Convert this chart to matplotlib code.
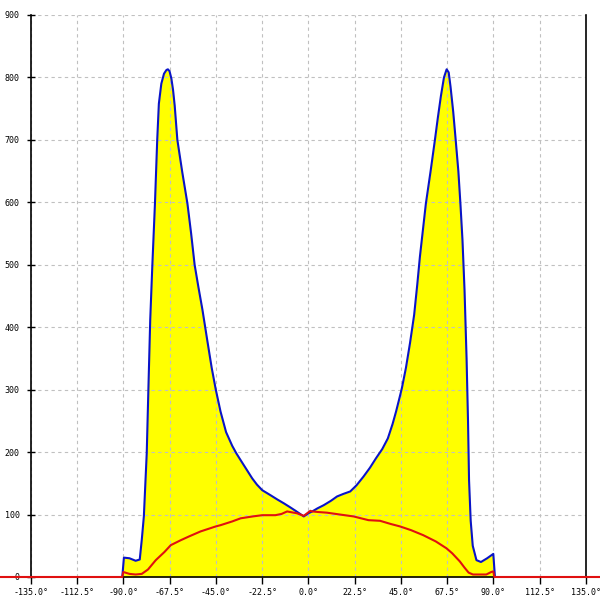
import matplotlib
matplotlib.use("Agg")
import matplotlib.pyplot as plt

blue_angle = [-90.5, -89.7, -87, -84, -82, -81, -80, -78.6, -77.8, -76.9, -75.9, -74.6,
              -73.5, -72.7, -71.5, -70.2, -69, -68.3, -67.5, -66.6, -65.8, -65, -63.7,
              -61.3, -58.8, -57, -55.3, -53.5, -51.5, -49.2, -47, -45, -42.7, -40,
              -37, -35, -32.9, -30, -27.3, -25, -22.4, -18.4, -15, -11.9, -9, -6.2,
              -2.2, 0, 1.9, 4.5, 7.5, 11, 14, 17, 20.4, 23.5, 26.9, 30, 32.9, 36, 38.7,
              41, 42.7, 44, 45.5, 47.5, 49.5, 51.5, 53, 54.3, 55.8, 57.2, 59.5, 61.6,
              63, 64.5, 66, 67.3, 68.3, 69.2, 70.5, 71.7, 73, 74, 75, 76, 77, 77.7,
              78.2, 79, 80, 81.8, 84, 87, 90, 90.8]
blue_value = [0, 31, 30, 26, 28, 60, 97, 198, 300, 412, 497, 598,
              700, 758, 790, 806, 812, 813, 810, 798, 780, 755, 700,
              648, 598, 550, 500, 465, 428, 380, 335, 300, 265, 232,
              210, 198, 187, 172, 158, 148, 139, 131, 124, 118, 112, 106,
              97, 102, 105, 110, 115, 122, 129, 133, 137, 147, 161, 175, 190, 205, 222,
              245, 265, 282, 302, 335, 375, 420, 468, 513, 557, 598, 650, 700,
              735, 770, 800, 813, 808, 785, 745, 700, 650, 598, 540, 460, 350, 250,
              155, 90, 50, 27, 24, 30, 37, 0]

red_angle = [-180, -90.5, -90, -87, -84, -81, -78, -74.2, -70, -66.9, -62, -58, -52.4,
             -45, -42.7, -37, -32.9, -27, -22.4, -16, -13, -10.3, -5.5, -2.2, 1, 1.9,
             5, 9.1, 15.5, 22, 29.3, 34.9, 40, 44.6, 50, 55.9, 62, 67.2, 70, 73.7, 76,
             78, 80.1, 86.6, 89, 90, 90.5, 180]
red_value = [0, 0, 8, 5, 4, 5, 12, 27, 40, 51, 59, 65, 73,
             81, 83, 89, 94, 97, 99, 99, 101, 105, 102, 98, 106, 105,
             104, 103, 100, 97, 91, 90, 85, 81, 75, 67, 57, 46, 38, 25, 15,
             7, 4, 4, 8, 9, 0, 0]

x_ticks = [-135 + 22.5 * i for i in range(13)]
x_labels = [f"{v:.1f}°" for v in x_ticks]
y_ticks = list(range(0, 1000, 100))
y_labels = [str(v) for v in y_ticks]

fig = plt.figure(figsize=(6, 6), dpi=100)
ax = fig.add_axes([30.8 / 600, 23 / 600, (585.8 - 30.8) / 600, (577 - 15) / 600])
ax.set_xlim(-135, 135)
ax.set_ylim(0, 900)

ax.fill_between(blue_angle, 0, blue_value, color="#ffff00", lw=0, zorder=1)
ax.plot(blue_angle, blue_value, color="#0a14c8", lw=1.5, zorder=3)
ax.plot(red_angle, red_value, color="#e01010", lw=1.5, zorder=4, clip_on=False)

ax.set_xticks(x_ticks)
ax.set_xticklabels(x_labels)
ax.set_yticks(y_ticks)
ax.set_yticklabels(y_labels)

ax.set_axisbelow(False)
ax.grid(True, color="#c0c0c0", linestyle=(0, (3, 3)), linewidth=0.8)

ax.spines["top"].set_visible(False)
for s in ("left", "right", "bottom"):
    ax.spines[s].set_color("black")
    ax.spines[s].set_linewidth(1.2)
    ax.spines[s].set_zorder(3.5)

ax.tick_params(axis="x", direction="out", length=5, width=1, pad=3,
               labelsize=6)
ax.tick_params(axis="y", direction="inout", length=6, width=1, pad=5,
               labelsize=6)
for lab in ax.get_xticklabels() + ax.get_yticklabels():
    lab.set_family("DejaVu Sans Mono")

fig.savefig("out.png", dpi=100)
